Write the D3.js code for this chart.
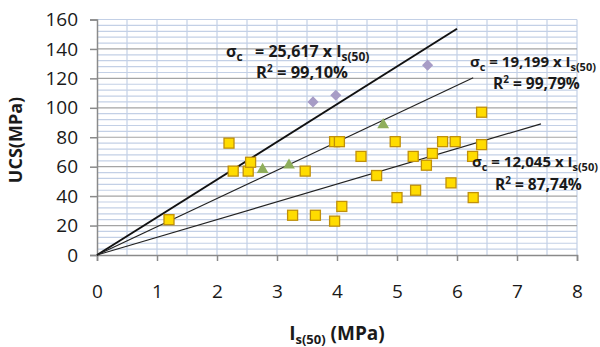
<!DOCTYPE html>
<html>
<head>
<meta charset="utf-8">
<script src="https://cdn.jsdelivr.net/npm/d3@7"></script>
<style>
  body { margin: 0; background: #fff; }
  text { font-family: "Open Sans", sans-serif; fill: #1a1a1a; }
</style>
</head>
<body>
<div id="chart"></div>
<script>
// data: [Is(50), UCS]
var squares = [[1.2,24],[2.2,76],[2.27,57],[2.52,57],[2.56,63],[3.26,27],[3.47,57],[3.64,27],
  [3.96,23],[3.96,77],[4.04,77],[4.08,33],[4.4,67],[4.66,54],[4.97,77],[5.0,39],[5.27,67],
  [5.31,44],[5.49,61],[5.59,69],[5.76,77],[5.9,49],[5.97,77],[6.26,67],[6.27,39],[6.41,75],[6.41,97]];
var triangles = [[2.76,58],[3.2,61],[4.77,88.5]];
var diamonds = [[3.6,104],[3.98,108.5],[5.51,129]];

// fitted lines through the origin
var slopes = [25.617, 19.199, 12.045];
var lineEnds = [6.0, 6.27, 7.4];
var slopeLabels = ["25,617", "19,199", "12,045"];
var r2Labels = ["99,10%", "99,79%", "87,74%"];

var xTicks = [0,1,2,3,4,5,6,7,8];
var yTicks = [0,20,40,60,80,100,120,140,160];

// set the dimensions and margins of the graph
var margin = {top: 19.5, right: 23, bottom: 92, left: 97},
    width = 600 - margin.left - margin.right,
    height = 347 - margin.top - margin.bottom;

var svg = d3.select('#chart')
    .append('svg')
    .attr('width', 600)
    .attr('height', 347)
    .append('g')
    .attr('transform', `translate(${margin.left}, ${margin.top})`);

var x = d3.scaleLinear().domain([0, 8]).range([0, width]);
var y = d3.scaleLinear().domain([0, 160]).range([height, 0]);

// grid: minor blue lines, major grey horizontals
svg.append('g').selectAll('line')
    .data(d3.range(0.5, 8.01, 0.5))
    .enter().append('line')
    .attr('x1', d => x(d)).attr('x2', d => x(d))
    .attr('y1', 0).attr('y2', height)
    .style('stroke', '#c3d0e6').style('stroke-width', 1.2);

svg.append('g').selectAll('line')
    .data(d3.range(4, 161, 4).filter(d => d % 20 != 0 || d == 160))
    .enter().append('line')
    .attr('x1', 0).attr('x2', width)
    .attr('y1', d => y(d)).attr('y2', d => y(d))
    .style('stroke', '#c3d0e6').style('stroke-width', 1.2);

svg.append('g').selectAll('line')
    .data(yTicks.filter(d => d > 0 && d < 160))
    .enter().append('line')
    .attr('x1', 0).attr('x2', width)
    .attr('y1', d => y(d)).attr('y2', d => y(d))
    .style('stroke', '#a4a4a4').style('stroke-width', 1.2);

// axes
var yAxis = svg.append('g')
    .call(d3.axisLeft(y).tickValues(yTicks).tickSize(7).tickPadding(12));
var xAxis = svg.append('g')
    .attr('transform', `translate(0, ${height})`)
    .call(d3.axisBottom(x).tickValues(xTicks).tickSize(6).tickPadding(24));

[xAxis, yAxis].forEach(function(a) {
    a.select('.domain').style('stroke', '#8a8a8a').style('stroke-width', 1.5);
    a.selectAll('.tick line').style('stroke', '#8a8a8a').style('stroke-width', 1.5);
    a.selectAll('.tick text')
        .style('font-family', '"Open Sans", sans-serif')
        .style('font-size', '19px')
        .style('fill', '#1a1a1a');
});

// regression lines
var line = d3.line().x(d => x(d[0])).y(d => y(d[1]));
svg.selectAll('.fit')
    .data(slopes)
    .enter().append('path')
    .attr('class', 'fit')
    .attr('d', (s, i) => line([[0, 0], [lineEnds[i], s * lineEnds[i]]]))
    .style('fill', 'none')
    .style('stroke', (s, i) => i == 0 ? '#111' : '#222')
    .style('stroke-width', (s, i) => i == 0 ? 2 : 1.2);

// points
svg.selectAll('.sq')
    .data(squares)
    .enter().append('rect')
    .attr('x', d => x(d[0]) - 5)
    .attr('y', d => y(d[1]) - 5)
    .attr('width', 10).attr('height', 10)
    .style('fill', '#ffdc00')
    .style('stroke', '#c0900a')
    .style('stroke-width', 1.3);

svg.selectAll('.tri')
    .data(triangles)
    .enter().append('path')
    .attr('transform', d => `translate(${x(d[0])}, ${y(d[1])})`)
    .attr('d', d3.symbol().type(d3.symbolTriangle).size(60))
    .style('fill', '#8fae5c');

svg.selectAll('.dia')
    .data(diamonds)
    .enter().append('path')
    .attr('transform', d => `translate(${x(d[0])}, ${y(d[1])}) rotate(45)`)
    .attr('d', d3.symbol().type(d3.symbolSquare).size(62))
    .style('fill', '#a79cc6');

// equation labels (page coordinates)
var root = d3.select('svg');
var eqPos = [
    {sx: 226, sy: 57, gap: '\u00a0\u00a0\u00a0', rx: 256, ry: 78, fs: 16},
    {sx: 470, sy: 67, gap: '\u00a0', rx: 493, ry: 89, fs: 15},
    {sx: 472, sy: 167, gap: '\u00a0', rx: 495, ry: 190, fs: 15}
];
eqPos.forEach(function(p, i) {
    var t = root.append('text')
        .attr('x', p.sx).attr('y', p.sy)
        .style('font-size', p.fs + 'px').style('font-weight', 'bold');
    t.append('tspan').text('σ');
    t.append('tspan').attr('dy', 4).style('font-size', (p.fs - 4) + 'px').text('c');
    t.append('tspan').attr('dy', -4).text(p.gap + '= ' + slopeLabels[i] + ' x I');
    t.append('tspan').attr('dy', 4).style('font-size', (p.fs - 4) + 'px').text('s(50)');

    var r = root.append('text')
        .attr('x', p.rx).attr('y', p.ry)
        .style('font-size', (p.fs + 0.5) + 'px').style('font-weight', 'bold');
    r.append('tspan').text('R');
    r.append('tspan').attr('dy', -6).style('font-size', '10px').text('2');
    r.append('tspan').attr('dy', 6).text(' = ' + r2Labels[i]);
});

// axis titles
var xl = root.append('text')
    .attr('x', margin.left + width / 2).attr('y', 340)
    .attr('text-anchor', 'middle')
    .style('font-size', '19px').style('font-weight', 'bold');
xl.append('tspan').text('I');
xl.append('tspan').attr('dy', 4).style('font-size', '13px').text('s(50)');
xl.append('tspan').attr('dy', -4).text(' (MPa)');

root.append('text')
    .attr('transform', 'translate(22, 140) rotate(-90)')
    .attr('text-anchor', 'middle')
    .style('font-size', '18px').style('font-weight', 'bold')
    .text('UCS(MPa)');
</script>
</body>
</html>
